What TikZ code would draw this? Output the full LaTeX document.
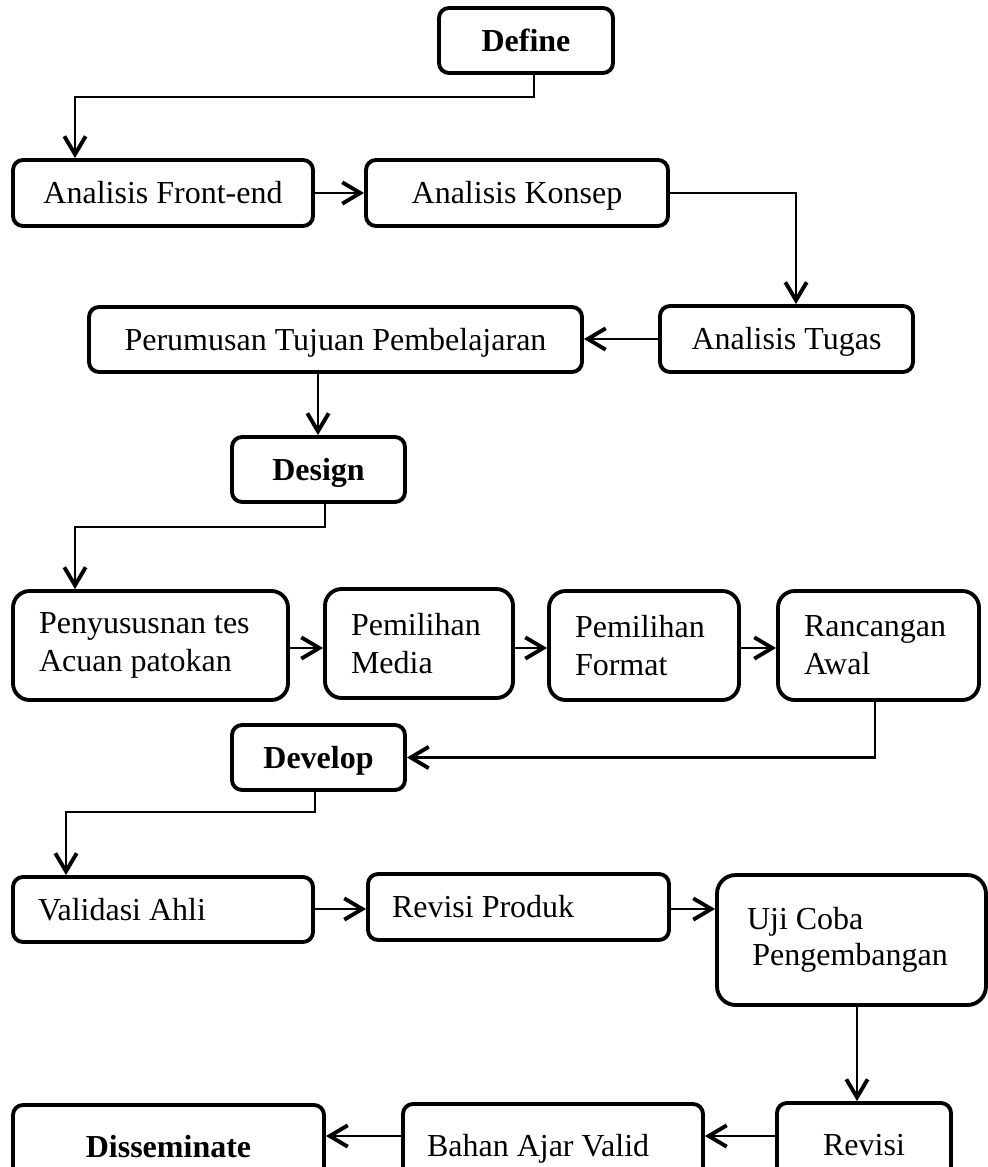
\documentclass[tikz,border=0pt]{standalone}
\usepackage{fontspec}
\setmainfont{Liberation Serif}
\usetikzlibrary{arrows.meta}
\begin{document}
\begin{tikzpicture}[x=0.75pt,y=-0.75pt,
  box/.style={draw, line width=2.9pt, rounded corners=7.5pt, inner sep=0pt,
    font=\fontsize{24}{28.5}\selectfont, align=center},
  one/.style={text height=17pt, text depth=1.1pt},
  tall/.style={rounded corners=12.5pt},
  lft/.style={align=flush left, inner xsep=#1},
  arr/.style={line width=2.2pt, -{Straight Barb[length=13.5pt,width=16pt,line width=2.9pt]}}
]
\path[use as bounding box, clip] (0,0) rectangle (988,1167);

% nodes
\node[box, one, minimum width=130.5pt, minimum height=48.75pt] (Define) at (526,40.5) {\textbf{Define}};
\node[box, one, minimum width=225pt, minimum height=49.5pt] (FrontEnd) at (163,193) {Analisis Front-end};
\node[box, one, minimum width=226.5pt, minimum height=49.5pt] (Konsep) at (517,193) {Analisis Konsep};
\node[box, one, minimum width=189.75pt, minimum height=49.5pt] (Tugas) at (786.5,339) {Analisis Tugas};
\node[box, one, minimum width=369.75pt, minimum height=48.75pt] (Perumusan) at (335.5,339.5) {Perumusan Tujuan Pembelajaran};
\node[box, one, minimum width=129.75pt, minimum height=48.75pt] (Design) at (318.5,469.5) {\textbf{Design}};

\node[box, tall, lft=19.5pt, text width=167.25pt, minimum height=81.75pt] (Penyusun) at (150.5,645.5) {Penyususnan tes\\Acuan patokan};
\node[box, tall, lft=19.5pt, text width=102pt, minimum height=81.75pt] (Media) at (419,643.5) {Pemilihan\\Media};
\node[box, tall, lft=19.5pt, text width=103.5pt, minimum height=81.75pt] (Format) at (644,645.5) {Pemilihan\\Format};
\node[box, tall, lft=19.5pt, text width=111.75pt, minimum height=81.75pt] (Rancangan) at (878.5,645.5) {Rancangan\\Awal};

\node[box, one, minimum width=129.75pt, minimum height=48.75pt] (Develop) at (318.5,757.5) {\textbf{Develop}};

\node[box, one, lft=18.75pt, text width=187.5pt, minimum height=48.75pt] (Validasi) at (163,909.5) {Validasi Ahli};
\node[box, one, lft=18pt, text width=189.75pt, minimum height=49.5pt] (RevProduk) at (518.5,907) {Revisi Produk};
\node[box, rounded corners=14pt, lft=22.5pt, text width=156.75pt, minimum height=97.5pt, font=\fontsize{24}{27}\selectfont] (Uji) at (851.5,940) {Uji Coba\\\hspace*{4pt}Pengembangan};

\node[box, one, minimum width=130.5pt, minimum height=63pt] (Revisi) at (864,1145) {Revisi};
\node[box, one, lft=18pt, text width=189pt, minimum height=63pt] (Bahan) at (553,1146) {Bahan Ajar Valid};
\node[box, one, minimum width=233.25pt, minimum height=62.25pt] (Dissem) at (168.5,1146.5) {\textbf{Disseminate}};

% connectors
\coordinate (a1) at (534,97);
\coordinate (a2) at (75,97);
\draw[arr] (Define.south -| a1) -- (a1) -- (a2) -- (a2 |- FrontEnd.north);

\draw[arr] (FrontEnd.east) -- (Konsep.west);

\coordinate (b1) at (796,193);
\draw[arr] (Konsep.east) -- (b1) -- (b1 |- Tugas.north);

\draw[arr] (Tugas.west) -- (Perumusan.east |- Tugas.west);

\coordinate (c0) at (318,469.5);
\draw[arr] (Perumusan.south -| c0) -- (Design.north -| c0);

\coordinate (e1) at (325,527);
\coordinate (e2) at (75,527);
\draw[arr] (Design.south -| e1) -- (e1) -- (e2) -- (e2 |- Penyusun.north);

\coordinate (r) at (0,648);
\draw[arr] (Penyusun.east |- r) -- (Media.west |- r);
\draw[arr] (Media.east |- r) -- (Format.west |- r);
\draw[arr] (Format.east |- r) -- (Rancangan.west |- r);

\coordinate (f1) at (875,757.5);
\draw[arr] (Rancangan.south -| f1) -- (f1) -- (Develop.east);

\coordinate (g1) at (315,812);
\coordinate (g2) at (66,812);
\draw[arr] (Develop.south -| g1) -- (g1) -- (g2) -- (g2 |- Validasi.north);

\coordinate (h) at (0,909);
\draw[arr] (Validasi.east |- h) -- (RevProduk.west |- h);
\draw[arr] (RevProduk.east |- h) -- (Uji.west |- h);

\coordinate (k) at (857,1000);
\draw[arr] (Uji.south -| k) -- (Revisi.north -| k);

\coordinate (m) at (0,1136);
\draw[arr] (Revisi.west |- m) -- (Bahan.east |- m);
\draw[arr] (Bahan.west |- m) -- (Dissem.east |- m);
\end{tikzpicture}
\end{document}
